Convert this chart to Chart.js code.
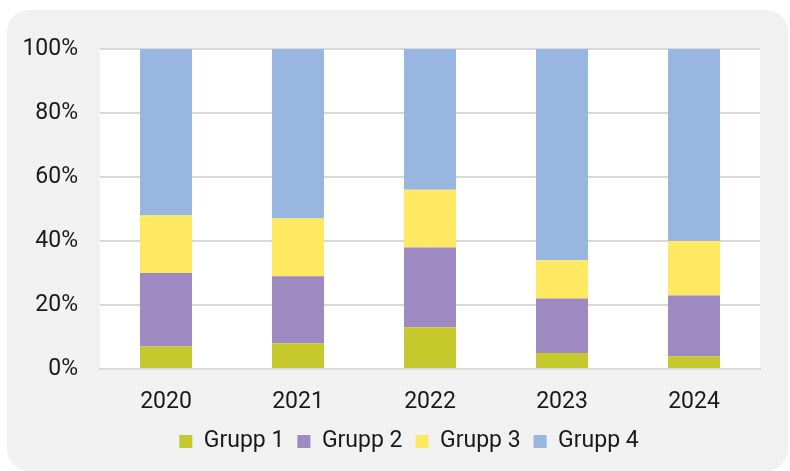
<!DOCTYPE html>
<html>
<head>
<meta charset="utf-8">
<script src="https://cdn.jsdelivr.net/npm/chart.js@4.4.0/dist/chart.umd.min.js"></script>
<style>
  html, body { margin:0; padding:0; background:#ffffff; }
  #wrap { position:relative; width:790px; height:471px; }
  #panel { position:absolute; left:7px; top:10px; width:781px; height:461px; background:#f1f1f1; border-radius:22px; }
  #chart { position:absolute; left:0; top:0; }
</style>
</head>
<body>
<div id="wrap">
  <div id="panel"></div>
  <canvas id="chart" width="790" height="471"></canvas>
</div>
<script>
// anni e quote per gruppo (percentuali)
const YEARS  = ["2020", "2021", "2022", "2023", "2024"];
const GRUPP1 = [7, 8, 13, 5, 4];
const GRUPP2 = [23, 21, 25, 17, 19];
const GRUPP3 = [18, 18, 18, 12, 17];
const GRUPP4 = [52, 53, 44, 66, 60];
const Y_TICKS = [0, 20, 40, 60, 80, 100];

const COLORS = ["#c5c92c", "#9e8ac0", "#ffe862", "#98b6e0"];
const NAMES  = ["Grupp 1", "Grupp 2", "Grupp 3", "Grupp 4"];
const SERIES = [GRUPP1, GRUPP2, GRUPP3, GRUPP4];

const FONT = { family: "Roboto, 'Noto Sans', sans-serif", size: 23 };

// sfondo bianco solo nell'area del grafico
const plotBg = {
  id: "plotBg",
  afterLayout(chart){
    // legenda spostata a destra come nell'originale
    const lg = chart.legend;
    if (lg){ lg.left += 29; lg.right += 29; }
  },
  beforeDraw(chart){
    const { ctx, chartArea: a } = chart;
    ctx.save();
    ctx.fillStyle = "#ffffff";
    ctx.fillRect(a.left, a.top, a.right - a.left, a.bottom - a.top);
    ctx.restore();
  }
};

const ctx = document.getElementById("chart").getContext("2d");
new Chart(ctx, {
  type: "bar",
  data: {
    labels: YEARS,
    datasets: SERIES.map((d, i) => ({
      label: NAMES[i],
      data: d,
      backgroundColor: COLORS[i],
      borderWidth: 0,
      categoryPercentage: 1,
      barPercentage: 0.394
    }))
  },
  options: {
    responsive: false,
    animation: false,
    layout: { padding: { left: 0, right: 30, top: 49, bottom: 8 } },
    scales: {
      x: {
        stacked: true,
        grid: { display: false, drawTicks: false },
        border: { display: true, color: "#d9d9d9", width: 2 },
        ticks: { color: "#1a1a1a", font: FONT, padding: 19 },
        afterFit(s){ s.height = 48; }
      },
      y: {
        stacked: true,
        min: 0, max: 100,
        afterBuildTicks(s){ s.ticks = Y_TICKS.map(v => ({ value: v })); },
        grid: { color: "#d9d9d9", lineWidth: 2, drawTicks: false },
        border: { display: false },
        ticks: { color: "#1a1a1a", font: FONT, padding: 22, callback: v => v + "%" },
        afterFit(s){ s.width = 100; }
      }
    },
    plugins: {
      legend: {
        position: "bottom",
        labels: { color: "#1a1a1a", font: FONT, boxWidth: 13, boxHeight: 13, padding: 13 }
      },
      tooltip: { enabled: false }
    }
  },
  plugins: [plotBg]
});
</script>
</body>
</html>
